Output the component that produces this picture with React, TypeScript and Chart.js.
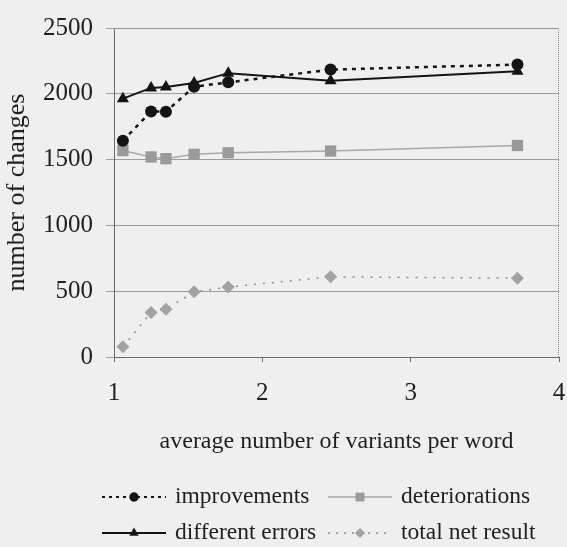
import { useEffect, useRef } from 'react';
import { Chart, registerables } from 'chart.js';
import { drawPoint } from 'chart.js/helpers';

Chart.register(...registerables);

// ---- data ----
const variantsPerWord = [1.06, 1.25, 1.35, 1.54, 1.77, 2.46, 3.72];
const improvements = [1644, 1866, 1864, 2054, 2087, 2184, 2222];
const deteriorations = [1569, 1520, 1507, 1540, 1552, 1565, 1607];
const differentErrors = [1963, 2045, 2052, 2082, 2157, 2100, 2172];
const totalNetResult = [77, 338, 363, 495, 532, 609, 599];
const seriesNames = ['improvements', 'deteriorations', 'different errors', 'total net result'];
const xTickValues = [1, 2, 3, 4];
const yTickValues = [0, 500, 1000, 1500, 2000, 2500];
const xTitle = 'average number of variants per word';
const yTitle = 'number of changes';

// ---- styles ----
const BG = '#efefef';
const TEXT = '#1f1f1f';
const FONT = "'Liberation Serif', 'Times New Roman', serif";
const BLACK = '#141414';
const GREY = '#9a9a9a';

const pts = (xs: number[], ys: number[]) => xs.map((x, i) => ({ x, y: ys[i] }));

const frameAndLegend = {
  id: 'frameAndLegend',
  beforeDatasetsDraw(chart: any) {
    const { ctx, chartArea: a } = chart;
    ctx.save();
    ctx.strokeStyle = '#8a8a8a';
    ctx.lineWidth = 1;
    ctx.setLineDash([1, 1]);
    ctx.beginPath();
    ctx.moveTo(a.left, a.top + 0.5);
    ctx.lineTo(a.right - 0.5, a.top + 0.5);
    ctx.lineTo(a.right - 0.5, a.bottom);
    ctx.stroke();
    ctx.restore();
  },
  afterDraw(chart: any) {
    const ctx = chart.ctx;
    const colX = [102, 328];
    const rowY = [497, 533];
    const sampleW = 64;
    const textGap = 73;
    chart.data.datasets.forEach((ds: any, i: number) => {
      const x0 = colX[i % 2];
      const y = rowY[Math.floor(i / 2)];
      ctx.save();
      ctx.strokeStyle = ds.borderColor;
      ctx.lineWidth = ds.legendLineWidth ?? ds.borderWidth;
      ctx.setLineDash(ds.legendDash ?? ds.borderDash ?? []);
      ctx.beginPath();
      ctx.moveTo(x0, y);
      ctx.lineTo(x0 + sampleW, y);
      ctx.stroke();
      ctx.setLineDash([]);
      ctx.fillStyle = ds.pointBackgroundColor;
      ctx.strokeStyle = ds.pointBackgroundColor;
      drawPoint(ctx, { pointStyle: ds.pointStyle, radius: ds.pointRadius * 0.78, borderWidth: 0, rotation: 0 } as any, x0 + sampleW / 2, y);
      ctx.fillStyle = TEXT;
      ctx.font = `23.5px ${FONT}`;
      ctx.textBaseline = 'middle';
      ctx.textAlign = 'left';
      ctx.fillText(ds.label, x0 + textGap, y);
      ctx.restore();
    });
  },
};

export default function App() {
  const ref = useRef<HTMLCanvasElement>(null);
  useEffect(() => {
    const chart = new Chart(ref.current!, {
      type: 'line',
      data: {
        datasets: [
          {
            label: seriesNames[0],
            data: pts(variantsPerWord, improvements),
            borderColor: BLACK,
            borderWidth: 2.5,
            borderDash: [4, 5],
            legendDash: [3, 4],
            legendLineWidth: 2,
            pointStyle: 'circle',
            pointRadius: 6,
            pointBackgroundColor: BLACK,
            pointBorderColor: BLACK,
            pointBorderWidth: 0,
          } as any,
          {
            label: seriesNames[1],
            data: pts(variantsPerWord, deteriorations),
            borderColor: '#a8a8a8',
            borderWidth: 1.5,
            pointStyle: 'rect',
            pointRadius: 8,
            pointBackgroundColor: GREY,
            pointBorderColor: GREY,
            pointBorderWidth: 0,
          } as any,
          {
            label: seriesNames[2],
            data: pts(variantsPerWord, differentErrors),
            borderColor: BLACK,
            borderWidth: 2,
            pointStyle: 'triangle',
            pointRadius: 7,
            pointBackgroundColor: BLACK,
            pointBorderColor: BLACK,
            pointBorderWidth: 0,
          } as any,
          {
            label: seriesNames[3],
            data: pts(variantsPerWord, totalNetResult),
            borderColor: '#8c8c8c',
            borderWidth: 1.5,
            borderDash: [2, 7],
            legendDash: [2, 6],
            pointStyle: 'rectRot',
            pointRadius: 6.5,
            pointBackgroundColor: '#a2a2a2',
            pointBorderColor: '#a2a2a2',
            pointBorderWidth: 0,
          } as any,
        ],
      },
      options: {
        responsive: false,
        animation: false,
        devicePixelRatio: 1,
        layout: { padding: { left: 0, right: 7, top: 22, bottom: 90 } },
        plugins: { legend: { display: false }, tooltip: { enabled: false } },
        scales: {
          x: {
            type: 'linear',
            min: 1,
            max: 4,
            afterBuildTicks: (s: any) => { s.ticks = xTickValues.map((v) => ({ value: v })); },
            afterFit: (s: any) => { s.height = 100; s.paddingLeft = 0; s.paddingRight = 0; },
            ticks: { font: { family: FONT, size: 25 }, color: TEXT, padding: 16, callback: (v: any) => String(v) },
            grid: { drawOnChartArea: false, drawTicks: true, tickLength: 5, color: '#6a6a6a' },
            border: { color: '#6a6a6a', width: 1 },
            title: { display: true, text: xTitle, font: { family: FONT, size: 24 }, color: TEXT, padding: { top: 0, bottom: 1 } },
          },
          y: {
            type: 'linear',
            min: 0,
            max: 2500,
            afterBuildTicks: (s: any) => { s.ticks = yTickValues.map((v) => ({ value: v })); },
            afterFit: (s: any) => { s.width = 114; },
            ticks: { font: { family: FONT, size: 25 }, color: TEXT, padding: 13, callback: (v: any) => String(v) },
            grid: { drawOnChartArea: true, drawTicks: true, tickLength: 8, color: '#9c9c9c' },
            border: { color: '#6a6a6a', width: 1 },
            title: { display: true, text: yTitle, font: { family: FONT, size: 26 }, color: TEXT, padding: { top: 2, bottom: 0 } },
          },
        },
      } as any,
      plugins: [frameAndLegend],
    });
    return () => chart.destroy();
  }, []);
  return (
    <div style={{ position: 'fixed', left: 0, top: 0, width: 567, height: 547, background: BG }}>
      <canvas ref={ref} width={567} height={547} style={{ display: 'block', width: 567, height: 547 }} />
    </div>
  );
}
